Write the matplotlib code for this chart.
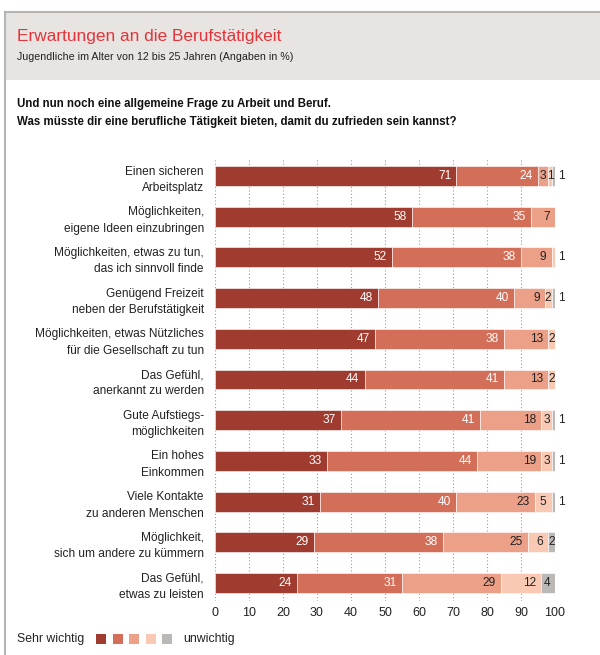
import matplotlib.pyplot as plt
import numpy as np
from matplotlib.patches import Rectangle

plt.rcParams['font.family'] = ['Liberation Sans', 'DejaVu Sans']

categories = [
    "Einen sicheren\nArbeitsplatz",
    "Möglichkeiten,\neigene Ideen einzubringen",
    "Möglichkeiten, etwas zu tun,\ndas ich sinnvoll finde",
    "Genügend Freizeit\nneben der Berufstätigkeit",
    "Möglichkeiten, etwas Nützliches\nfür die Gesellschaft zu tun",
    "Das Gefühl,\nanerkannt zu werden",
    "Gute Aufstiegs-\nmöglichkeiten",
    "Ein hohes\nEinkommen",
    "Viele Kontakte\nzu anderen Menschen",
    "Möglichkeit,\nsich um andere zu kümmern",
    "Das Gefühl,\netwas zu leisten",
]
sehr_wichtig = [71, 58, 52, 48, 47, 44, 37, 33, 31, 29, 24]
wichtig = [24, 35, 38, 40, 38, 41, 41, 44, 40, 38, 31]
mittel = [3, 7, 9, 9, 13, 13, 18, 19, 23, 25, 29]
weniger = [1, 0, 1, 2, 2, 2, 3, 3, 5, 6, 12]
unwichtig = [1, 0, 0, 1, 0, 0, 1, 1, 1, 2, 4]
ticks = [0, 10, 20, 30, 40, 50, 60, 70, 80, 90, 100]

colors = ['#a03b2f', '#d36e58', '#eca088', '#f9c9b4', '#bcb8b6']
text_colors = ['white', 'white', '#222222', '#222222', '#222222']

W, H = 600, 655
fig = plt.figure(figsize=(W / 100, H / 100), dpi=100)

# Rahmen, Kopf und Legende in Pixelkoordinaten
bg = fig.add_axes([0, 0, 1, 1])
bg.set_xlim(0, W)
bg.set_ylim(H, 0)
bg.axis('off')
bg.add_patch(Rectangle((5, 12), W, 68, color='#e7e4e2', lw=0))
bg.plot([5, 5], [12, H], color='#b5b5b5', lw=1.5)
bg.plot([5, W], [12, 12], color='#b5b5b5', lw=1.5)
bg.text(17, 41, "Erwartungen an die Berufstätigkeit", color='#e3343a',
        fontsize=12.4, va='baseline')
bg.text(17, 60, "Jugendliche im Alter von 12 bis 25 Jahren (Angaben in %)",
        color='#222222', fontsize=7.7, va='baseline')
bg.text(17, 107, "Und nun noch eine allgemeine Frage zu Arbeit und Beruf.",
        color='#111111', fontsize=8.3, fontweight='bold', va='baseline')
bg.text(17, 125, "Was müsste dir eine berufliche Tätigkeit bieten, damit du zufrieden sein kannst?",
        color='#111111', fontsize=8.3, fontweight='bold', va='baseline')

bg.text(17, 639, "Sehr wichtig", fontsize=8.8, color='#222222', va='center')
for i, c in enumerate(colors):
    bg.add_patch(Rectangle((96 + i * 16.5, 634), 10, 10, color=c, lw=0))
bg.text(183, 639, "unwichtig", fontsize=8.8, color='#222222', va='center')

# Diagramm
ax = fig.add_axes([215 / W, 1 - 601.3 / H, 340 / W, (601.3 - 157.7) / H])
series = [sehr_wichtig, wichtig, mittel, weniger, unwichtig]
y = np.arange(len(categories))
left = np.zeros(len(categories))
for k, vals in enumerate(series):
    vals = np.array(vals, dtype=float)
    ax.barh(y, vals, left=left, height=0.49, color=colors[k],
            edgecolor='white', linewidth=0.4, zorder=2)
    for i, v in enumerate(vals):
        if v <= 0:
            continue
        end = left[i] + v
        last = all(s[i] == 0 for s in series[k + 1:])
        if last and v <= 1:
            ax.text(100.8, i, f"{v:.0f}", ha='left', va='center',
                    fontsize=8.6, color='#222222', zorder=3)
        elif v <= 3:
            ax.text(left[i] + v / 2, i, f"{v:.0f}", ha='center', va='center',
                    fontsize=8.6, color=text_colors[k], zorder=3)
        else:
            ax.text(end - 1.5, i, f"{v:.0f}", ha='right', va='center',
                    fontsize=8.6, color=text_colors[k], zorder=3)
    left += vals

ax.set_xlim(0, 100)
ax.set_ylim(len(categories) - 0.55, -0.45)
ax.set_xticks(ticks)
ax.set_yticks(y)
ax.set_yticklabels(categories, fontsize=8.6, color='#222222', linespacing=1.5)
ax.tick_params(axis='x', length=0, labelsize=9, labelcolor='#222222', pad=4)
ax.tick_params(axis='y', length=0, pad=8)
for lab in ax.get_yticklabels():
    lab.set_horizontalalignment('right')
ax.grid(axis='x', color='#9a9a9a', linestyle=(0, (1, 2)), linewidth=0.8, zorder=0)
for s in ax.spines.values():
    s.set_visible(False)
ax.set_facecolor('none')

fig.savefig('out.png', dpi=100)
